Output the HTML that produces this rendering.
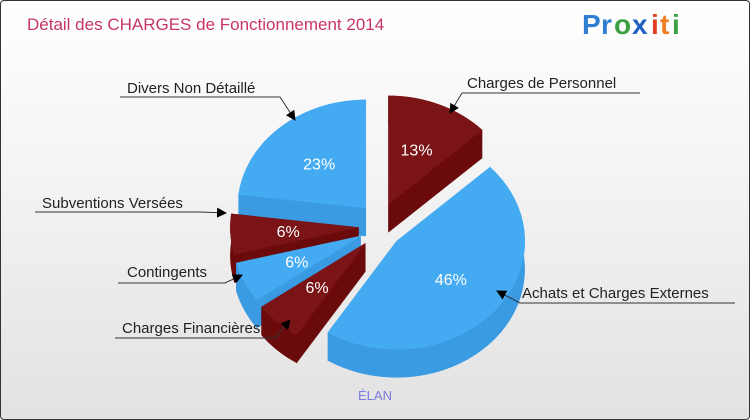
<!DOCTYPE html>
<html><head><meta charset="utf-8"><style>
body{margin:0;width:750px;height:420px;overflow:hidden;font-family:"Liberation Sans",sans-serif;}
#wrap{position:absolute;left:0;top:0;width:748px;height:418px;border:1px solid #333;border-radius:4px;background:linear-gradient(#ffffff,#f4f4f4 40%,#e2e2e2);}
</style></head><body>
<div id="wrap">
<svg id="svg" width="750" height="420" style="position:absolute;left:-1px;top:-1px">
<defs><marker id="arr" markerWidth="10" markerHeight="10" refX="9" refY="5" orient="auto" markerUnits="userSpaceOnUse"><path d="M0,0 L10,5 L0,10 z" fill="#000"/></marker></defs>
<text x="27" y="30" font-size="17" fill="#c8346a">Détail des CHARGES de Fonctionnement 2014</text>
<g font-size="28" font-weight="bold" font-family="'Liberation Sans',sans-serif">
<text x="582" y="34" fill="#2f7fd0">P</text><text x="601" y="34" fill="#2f7fd0">r</text><text x="614" y="34" fill="#3aa040">o</text><text x="632" y="34" fill="#2060c0">x</text><text x="651" y="34" fill="#e04020">i</text><text x="660" y="34" fill="#f08020">t</text><text x="672" y="34" fill="#3aa040">i</text></g>
<g id="slices"></g>
<g id="labels"></g>
<text x="358" y="400" font-size="13" fill="#7b7be0">ÉLAN</text>
</svg></div>
<script>
const categories=["Charges de Personnel","Achats et Charges Externes","Charges Financières","Contingents","Subventions Versées","Divers Non Détaillé"];
const values=[13,46,6,6,6,23];
const pctLabels=["13%","46%","6%","6%","6%","23%"];
const colors=["red","blue","red","blue","red","blue"];
const labelText=[[467,88],[522,298],[122,333],[127,277],[42,208],[127,93]];
const labelLine=[[640,93,462,93,450,113],[735,303,520,303,497,291],[115,338,275,338,290,320],[118,283,225,283,242,275],[35,212,200,212,226,213],[120,97,280,97,295,120]];
const NS="http://www.w3.org/2000/svg";
const cx=380,cy=226,rx=128,ry=108,depth=28,expl=24;
const pal={red:["#7b1416","#6a0a0b"],blue:["#44aaf2","#3a9ae2"]};
const total=values.reduce((a,b)=>a+b,0);
function pt(x0,y0,a,r){return [x0+r*rx*Math.sin(a),y0-r*ry*Math.cos(a)];}
const sl=[];let acc=0;
values.forEach((v,i)=>{const a0=acc/total*2*Math.PI;acc+=v;const a1=acc/total*2*Math.PI;
 const mid=(a0+a1)/2;const ox=cx+expl*Math.sin(mid)*0.9,oy=cy-expl*Math.cos(mid);sl.push({i,a0,a1,mid,ox,oy});});
const g=document.getElementById('slices');
function poly(points,fill,name){const p=document.createElementNS(NS,'polygon');p.setAttribute('points',points.map(q=>q.join(',')).join(' '));p.setAttribute('fill',fill);p.setAttribute('stroke',fill);p.setAttribute('stroke-width','0.6');


g.appendChild(p);}
[...sl].sort((a,b)=>(-Math.cos(a.mid))-(-Math.cos(b.mid))).forEach(s=>{
 const c=pal[colors[s.i]];const n=40;const arc=[];
 for(let k=0;k<=n;k++)arc.push(pt(s.ox,s.oy,s.a0+(s.a1-s.a0)*k/n,1));
 const ctr=[s.ox,s.oy];const dn=q=>[q[0],q[1]+depth];
 poly([ctr,arc[0],dn(arc[0]),dn(ctr)],c[1],'slice-side-'+s.i);
 poly([ctr,arc[n],dn(arc[n]),dn(ctr)],c[1],'slice-side-'+s.i);
 poly(arc.concat(arc.slice().reverse().map(dn)),c[1],'slice-wall-'+s.i);
 poly([ctr].concat(arc),c[0],'slice-top-'+s.i);
 const lp=pt(s.ox,s.oy,s.mid,0.55);
 const t=document.createElementNS(NS,'text');t.setAttribute('x',lp[0]);t.setAttribute('y',lp[1]+6);t.setAttribute('text-anchor','middle');t.setAttribute('font-size','16');t.setAttribute('fill','#fff');t.textContent=pctLabels[s.i];
 
 
 g.appendChild(t);
});
const L=document.getElementById('labels');
categories.forEach((c,i)=>{
 const t=document.createElementNS(NS,'text');t.setAttribute('x',labelText[i][0]);t.setAttribute('y',labelText[i][1]);t.setAttribute('font-size','15');t.setAttribute('fill','#222');t.textContent=c;
 
 
 L.appendChild(t);
 const l=labelLine[i];const p=document.createElementNS(NS,'polyline');
 p.setAttribute('points',`${l[0]},${l[1]} ${l[2]},${l[3]} ${l[4]},${l[5]}`);p.setAttribute('fill','none');p.setAttribute('stroke','#333');p.setAttribute('stroke-width','1');p.setAttribute('marker-end','url(#arr)');
 
 
 L.appendChild(p);
});
</script>
</body></html>
